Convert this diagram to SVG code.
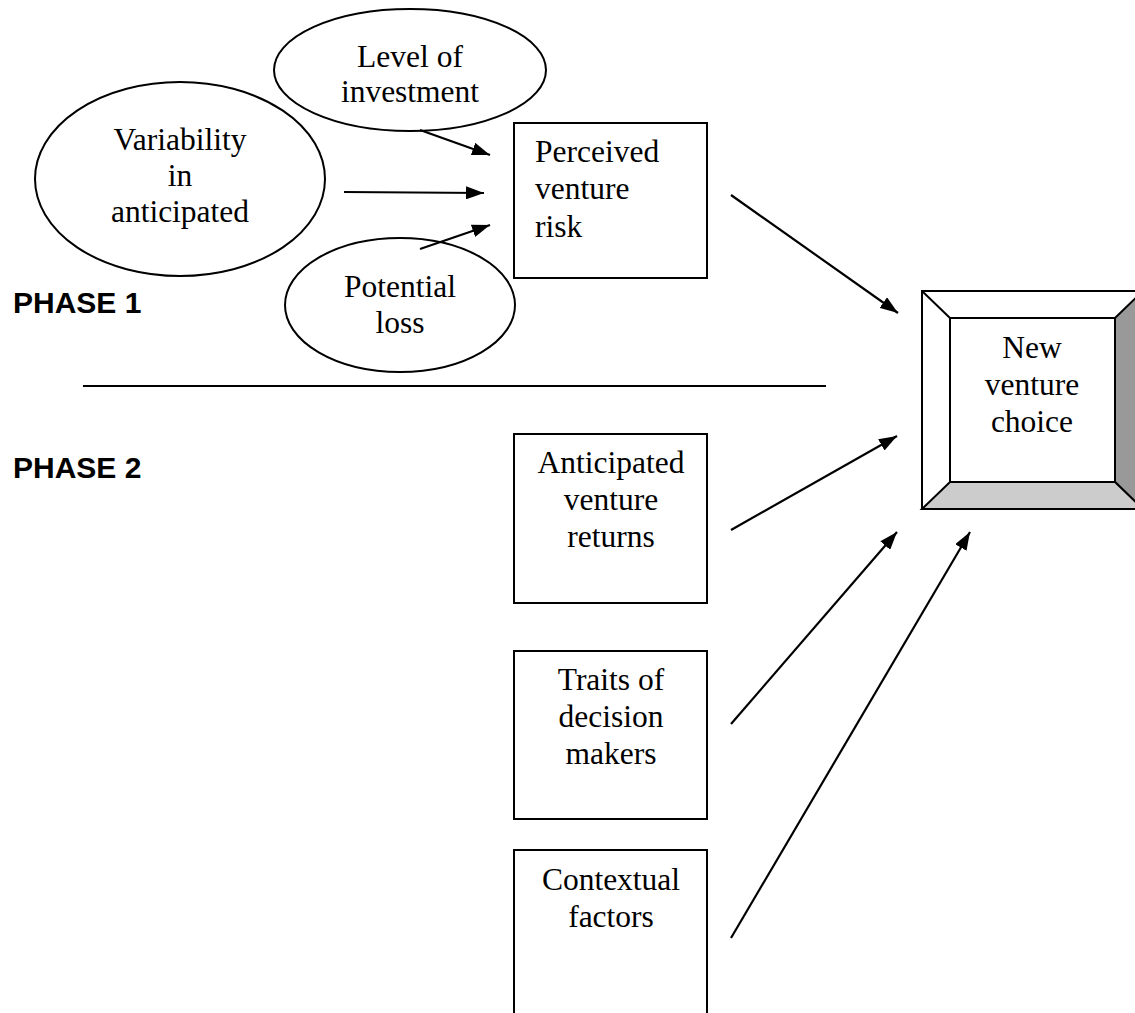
<svg xmlns="http://www.w3.org/2000/svg" width="1135" height="1013" viewBox="0 0 1135 1013">
<defs>
<marker id="ah" markerWidth="18" markerHeight="13" refX="18" refY="6.5" orient="auto" markerUnits="userSpaceOnUse" viewBox="0 0 18 13">
<path d="M0,0 L18,6.5 L0,13 Z" fill="#000"/>
</marker>
<style>
.t{font-family:"Liberation Serif","Times New Roman",serif;font-size:31.5px;fill:#000}
.c{text-anchor:middle}
.ph{font-family:"Liberation Sans",Arial,sans-serif;font-size:30px;font-weight:bold;fill:#000}
.s{fill:#fff;stroke:#000;stroke-width:2}
.e{stroke:#000;stroke-width:2.2;fill:none;marker-end:url(#ah)}
</style>
</defs>
<rect width="1135" height="1013" fill="#fff"/>
<g id="level">
<ellipse class="s" cx="410" cy="70" rx="136" ry="61"/>
<text class="t c" x="410" y="67">Level of</text>
<text class="t c" x="410" y="102">investment</text>
</g>
<g id="variability">
<ellipse class="s" cx="180" cy="179" rx="145" ry="97"/>
<text class="t c" x="180" y="150">Variability</text>
<text class="t c" x="180" y="186">in</text>
<text class="t c" x="180" y="222">anticipated</text>
</g>
<g id="potential">
<ellipse class="s" cx="400" cy="305" rx="115" ry="67"/>
<text class="t c" x="400" y="297">Potential</text>
<text class="t c" x="400" y="333">loss</text>
</g>
<g id="perceived">
<rect class="s" x="514" y="123" width="193" height="155"/>
<text class="t" x="535" y="162">Perceived</text>
<text class="t" x="535" y="199">venture</text>
<text class="t" x="535" y="237">risk</text>
</g>
<g id="phases">
<text class="ph" x="13" y="313">PHASE 1</text>
<text class="ph" x="13" y="478">PHASE 2</text>
<line x1="83" y1="386" x2="826" y2="386" stroke="#000" stroke-width="2"/>
</g>
<g id="anticipated">
<rect class="s" x="514" y="434" width="193" height="169"/>
<text class="t c" x="611" y="473">Anticipated</text>
<text class="t c" x="611" y="510">venture</text>
<text class="t c" x="611" y="547">returns</text>
</g>
<g id="traits">
<rect class="s" x="514" y="651" width="193" height="168"/>
<text class="t c" x="611" y="690">Traits of</text>
<text class="t c" x="611" y="727">decision</text>
<text class="t c" x="611" y="764">makers</text>
</g>
<g id="contextual">
<rect class="s" x="514" y="850" width="193" height="180"/>
<text class="t c" x="611" y="890">Contextual</text>
<text class="t c" x="611" y="927">factors</text>
</g>
<g id="choice">
<rect x="922" y="291" width="221" height="218" fill="#fff" stroke="#000" stroke-width="2"/>
<polygon points="1115,318 1143,291 1143,509 1115,482" fill="#999" stroke="#000" stroke-width="2"/>
<polygon points="950,482 1115,482 1143,509 922,509" fill="#ccc" stroke="#000" stroke-width="2"/>
<line x1="922" y1="291" x2="950" y2="318" stroke="#000" stroke-width="2"/>
<rect x="950" y="318" width="165" height="164" fill="#fff" stroke="#000" stroke-width="2"/>
<text class="t c" x="1032" y="358">New</text>
<text class="t c" x="1032" y="395">venture</text>
<text class="t c" x="1032" y="432">choice</text>
</g>
<g id="connectors">
<line class="e" x1="420" y1="130" x2="490" y2="155"/>
<line class="e" x1="344" y1="192" x2="484" y2="193"/>
<line class="e" x1="420" y1="249" x2="490" y2="225"/>
<line class="e" x1="731" y1="195" x2="898" y2="313"/>
<line class="e" x1="731" y1="530" x2="897" y2="436"/>
<line class="e" x1="731" y1="724" x2="897" y2="532"/>
<line class="e" x1="731" y1="938" x2="970" y2="532"/>
</g>
</svg>
